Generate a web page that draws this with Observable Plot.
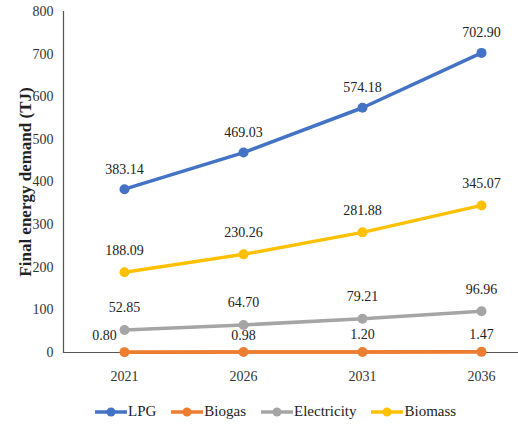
<!DOCTYPE html>
<html>
<head>
<meta charset="utf-8">
<script src="https://cdn.jsdelivr.net/npm/d3@7"></script>
<script src="https://cdn.jsdelivr.net/npm/@observablehq/plot@0.6"></script>
<style>
  body { margin: 0; background: #fff; font-family: 'Liberation Serif', 'Times New Roman', serif; }
  #chart { width: 518px; }
  #chart svg text { font-family: 'Liberation Serif', 'Times New Roman', serif; }
  .legend { display: flex; align-items: center; padding-left: 95px; margin-top: 13px; font-size: 15px; color: #222; }
  .item { display: flex; align-items: center; margin-right: 15px; }
  .item svg { margin-right: 1px; }
</style>
</head>
<body>
<div id="chart"></div>
<script>
const years = ["2021", "2026", "2031", "2036"];
const seriesNames = ["LPG", "Biogas", "Electricity", "Biomass"];
const lpg = [383.14, 469.03, 574.18, 702.90];
const biogas = [0.80, 0.98, 1.20, 1.47];
const electricity = [52.85, 64.70, 79.21, 96.96];
const biomass = [188.09, 230.26, 281.88, 345.07];
const colors = ["#4472C4", "#ED7D31", "#A5A5A5", "#FFC000"];
const yTicks = [0, 100, 200, 300, 400, 500, 600, 700, 800];

const valuesBySeries = [lpg, biogas, electricity, biomass];
const data = [];
seriesNames.forEach((s, i) => {
  years.forEach((y, j) => data.push({series: s, year: y, value: valuesBySeries[i][j], idx: j}));
});
const labelDy = {LPG: -20, Biogas: -17, Electricity: -22, Biomass: -22};

const plot = Plot.plot({
  width: 518,
  height: 390,
  marginLeft: 63,
  marginRight: 0,
  marginTop: 11,
  marginBottom: 38,
  style: "font-family: 'Liberation Serif', 'Times New Roman', serif; font-size: 14px; color: #333; background: #fff;",
  x: {type: "point", domain: years, range: [124, 481], padding: 0, label: null},
  y: {domain: [0, 800], ticks: yTicks, label: null},
  color: {domain: seriesNames, range: colors},
  marks: [
    Plot.axisY({ticks: yTicks, tickSize: 0, tickPadding: 10, label: null, fontSize: 14}),
    Plot.axisX({tickSize: 0, tickPadding: 19, label: null, fontSize: 14}),
    Plot.frame({anchor: "left", stroke: "#555", strokeWidth: 1.2}),
    Plot.line(data, {x: "year", y: "value", z: "series", stroke: "series", strokeWidth: 3.5}),
    Plot.ruleY([0], {stroke: "#555", strokeWidth: 1.2}),
    Plot.line(data.filter(d => d.series === "Biogas"), {x: "year", y: "value", stroke: "series", strokeWidth: 3.5}),
    Plot.dot(data, {x: "year", y: "value", fill: "series", r: 5}),
    ...seriesNames.map(s => Plot.text(data.filter(d => d.series === s && !(s === "Biogas" && d.idx === 0)), {
      x: "year", y: "value", text: d => d.value.toFixed(2), dy: labelDy[s], fill: "#222", fontSize: 14
    })),
    Plot.text(data.filter(d => d.series === "Biogas" && d.idx === 0), {
      x: "year", y: "value", text: d => d.value.toFixed(2), dy: -17, dx: -20, fill: "#222", fontSize: 14
    }),
    Plot.text(["Final energy demand (TJ)"], {
      frameAnchor: "left", textAnchor: "middle", rotate: -90, dx: -38, fontWeight: "bold", fontSize: 17, fill: "#222"
    })
  ]
});
document.getElementById("chart").appendChild(plot);

const legend = document.createElement("div");
legend.className = "legend";
seriesNames.forEach((s, i) => {
  const item = document.createElement("div");
  item.className = "item";
  item.innerHTML = `<svg width="32" height="12"><line x1="0" y1="6" x2="32" y2="6" stroke="${colors[i]}" stroke-width="3.5"/><circle cx="16" cy="6" r="4.5" fill="${colors[i]}"/></svg><span>${s}</span>`;
  legend.appendChild(item);
});
document.getElementById("chart").appendChild(legend);
</script>
</body>
</html>
